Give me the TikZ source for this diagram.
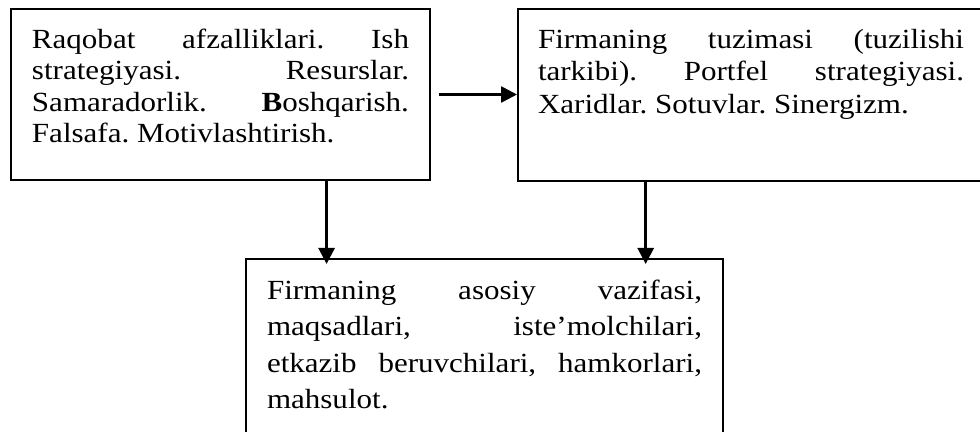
\documentclass[tikz,border=0pt]{standalone}
\usepackage{fontspec}
\setmainfont[FakeStretch=1.12]{Liberation Serif}
\usetikzlibrary{arrows.meta}
\usetikzlibrary{calc}
\newcommand{\boxtext}[4]{\parbox[t][#1][t]{#2}{\fontsize{13.85pt}{#3}\selectfont\frenchspacing #4}}

\begin{document}
\begin{tikzpicture}[x=0.5pt,y=-0.5pt,
  box/.style={draw,line width=1pt,anchor=north west,inner xsep=10.5pt,inner ysep=10pt},
  arr/.style={line width=1.3pt,-{Triangle[length=8pt,width=8pt]}}]
  \useasboundingbox (0,0) rectangle (980,432);
  \clip (0,0) rectangle (980,432);

  \node[box] (lbox) at (10,8) {\boxtext{65.5pt}{188.5pt}{15.7pt}{Raqobat afzalliklari. Ish\linebreak strategiyasi. Resurslar.\linebreak Samaradorlik. \textbf{B}oshqarish.\linebreak Falsafa. Motivlashtirish.}};
  \node[box,inner xsep=10pt] (rbox) at (517,8) {\boxtext{66pt}{213pt}{16.2pt}{Firmaning tuzimasi (tuzilishi\linebreak tarkibi). Portfel strategiyasi.\linebreak Xaridlar. Sotuvlar. Sinergizm.}};
  \node[box,inner ysep=10.5pt] (bbox) at (245,258) {\boxtext{90pt}{217.5pt}{18.15pt}{Firmaning asosiy vazifasi,\linebreak maqsadlari, iste’molchilari,\linebreak etkazib beruvchilari, hamkorlari,\linebreak mahsulot.}};

  \coordinate (l1) at ($(lbox.south west)!.752!(lbox.south east)$);
  \coordinate (r1) at ($(rbox.south west)!.275!(rbox.south east)$);

  \draw[arr,shorten <=4pt] (lbox.east) -- (lbox.east -| rbox.west);
  \draw[arr,shorten >=-3pt] (l1) -- (l1 |- bbox.north);
  \draw[arr,shorten >=-3pt] (r1) -- (r1 |- bbox.north);
\end{tikzpicture}
\end{document}
